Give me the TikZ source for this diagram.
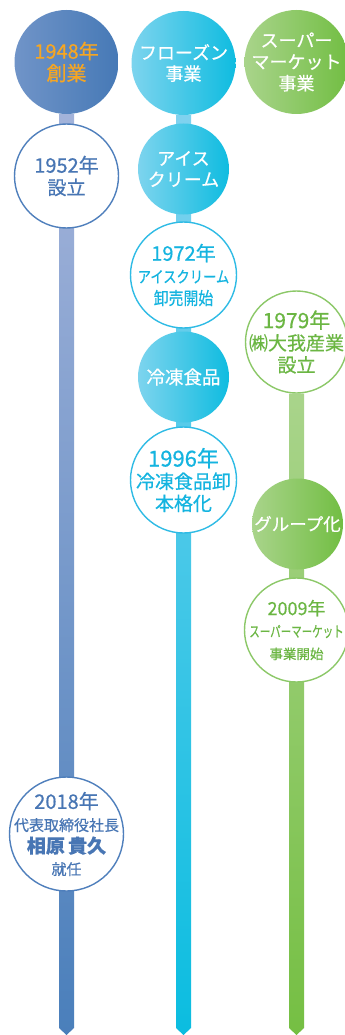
\documentclass[tikz,border=0pt]{standalone}
\usepackage{fontspec}
\setmainfont{Noto Sans CJK JP}[FakeBold=0.6]
\usetikzlibrary{backgrounds}
\definecolor{blueL}{HTML}{7094C8}
\definecolor{blueR}{HTML}{4679B6}
\definecolor{blueLine}{HTML}{4F7FBC}
\definecolor{blueText}{HTML}{4876B4}
\definecolor{blueTop}{HTML}{A3B3DA}
\definecolor{blueBot}{HTML}{4A7FBB}
\definecolor{orangeText}{HTML}{F6A623}
\definecolor{cyanL}{HTML}{7DD4EE}
\definecolor{cyanR}{HTML}{0FBCE0}
\definecolor{cyanLine}{HTML}{2FBBE5}
\definecolor{cyanText}{HTML}{14B4E0}
\definecolor{cyanTop}{HTML}{7FD2EF}
\definecolor{cyanBot}{HTML}{0BBDE0}
\definecolor{greenL}{HTML}{A9D48B}
\definecolor{greenR}{HTML}{72BE43}
\definecolor{greenLine}{HTML}{8CC868}
\definecolor{greenText}{HTML}{6BB643}
\definecolor{greenTop}{HTML}{A9D48B}
\definecolor{greenBot}{HTML}{75BF43}
\begin{document}
\begin{tikzpicture}[x=1pt,y=-1pt,
    fillball/.style={circle, inner sep=0pt, minimum size=#1},
    ringball/.style={circle, draw, line width=1.4pt, fill=white, inner sep=0pt, minimum size=#1},
    caption/.style={inner sep=0pt, align=center, font=\fontsize{19}{22}\selectfont}]
  \useasboundingbox (0,0) rectangle (345,1035);
  % first column
  \node[fillball=104, left color=blueL, right color=blueR] (founded) at (66.5,62) {};
  \node[caption, text=orangeText, font=\fontsize{20}{22}\selectfont] (founded-txt) at (founded) {1948年\\創業};
  \node[ringball=104, draw=blueLine] (estab) at (66.5,176) {};
  \node[caption, text=blueText] (estab-txt) at (estab) {{\fontsize{20}{22}\selectfont 1952年}\\設立};
  \node[ringball=114, draw=blueLine] (president) at (66.5,834) {};
  \node[caption, text=blueText] (president-txt) at (president)
    {{\fontsize{20}{22}\selectfont 2018年}\\{\fontsize{15}{22}\selectfont 代表取締役社長}\\
     {\fontsize{19}{22}\selectfont\bfseries 相原\,貴久}\\{\fontsize{15}{22}\selectfont 就任}};
  \coordinate (tipA) at (66.5,1035);
  % second column
  \node[fillball=104, left color=cyanL, right color=cyanR] (frozen) at (183.5,63) {};
  \node[caption, text=white, font=\fontsize{18}{21}\selectfont] (frozen-txt) at (frozen) {フローズン\\事業};
  \node[fillball=91, left color=cyanL, right color=cyanR] (icecream) at (183.5,169) {};
  \node[caption, text=white, font=\fontsize{18}{21}\selectfont] (icecream-txt) at (icecream) {アイス\\クリーム};
  \node[ringball=106, draw=cyanLine] (ice72) at (183.5,275) {};
  \node[caption, text=cyanText] (ice72-txt) at (ice72)
    {{\fontsize{20}{22}\selectfont 1972年}\\\scalebox{0.83}[1]{\fontsize{16}{22}\selectfont アイスクリーム}\\
     \scalebox{0.85}[1]{\fontsize{17.5}{22}\selectfont 卸売開始}};
  \node[fillball=91, left color=cyanL, right color=cyanR] (frozenfood) at (183.5,377) {};
  \node[caption, text=white, font=\fontsize{18.5}{21}\selectfont] (frozenfood-txt) at (frozenfood) {冷凍食品};
  \node[ringball=106, draw=cyanLine] (frozen96) at (183.5,480) {};
  \node[caption, text=cyanText] (frozen96-txt) at (frozen96)
    {{\fontsize{22}{22}\selectfont 1996年}\\冷凍食品卸\\本格化};
  \coordinate (tipB) at (183.5,1035);
  % third column
  \node[fillball=104, left color=greenL, right color=greenR] (super) at (296.5,62) {};
  \node[caption, text=white, font=\fontsize{18}{21.5}\selectfont] (super-txt) at (super) {スーパー\\マーケット\\事業};
  \node[ringball=102, draw=greenLine] (daiga) at (296.5,342) {};
  \node[caption, text=greenText] (daiga-txt) at (daiga) {{\fontsize{21}{22}\selectfont 1979年}\\㈱大我産業\\設立};
  \node[fillball=91, left color=greenL, right color=greenR] (group) at (297.5,524) {};
  \node[caption, text=white, font=\fontsize{17.5}{21}\selectfont] (group-txt) at (group) {グループ化};
  \node[ringball=104, draw=greenLine] (super09) at (296.5,630) {};
  \node[caption, text=greenText] (super09-txt) at (super09)
    {{\fontsize{18}{22}\selectfont 2009年}\\\scalebox{0.7}[1]{\fontsize{15}{22}\selectfont スーパーマーケット}\\
     {\fontsize{13.5}{22}\selectfont 事業開始}};
  \coordinate (tipC) at (296.5,1035);
  % bars behind the circles
  \begin{scope}[on background layer]
    \fill[white] (0,0) rectangle (345,1035);
    \shade[top color=blueTop, bottom color=blueBot] ([xshift=-7.5]founded.south) -- ([xshift=7.5]founded.south)
      -- ([xshift=7.5,yshift=7]tipA) -- (tipA) -- ([xshift=-7.5,yshift=7]tipA) -- cycle;
    \shade[top color=cyanTop, bottom color=cyanBot] ([xshift=-7.5]frozen.south) -- ([xshift=7.5]frozen.south)
      -- ([xshift=7.5,yshift=7]tipB) -- (tipB) -- ([xshift=-7.5,yshift=7]tipB) -- cycle;
    \shade[top color=greenTop, bottom color=greenBot] ([xshift=-7.5]daiga.south) -- ([xshift=7.5]daiga.south)
      -- ([xshift=7.5,yshift=7]tipC) -- (tipC) -- ([xshift=-7.5,yshift=7]tipC) -- cycle;
  \end{scope}
\end{tikzpicture}
\end{document}
